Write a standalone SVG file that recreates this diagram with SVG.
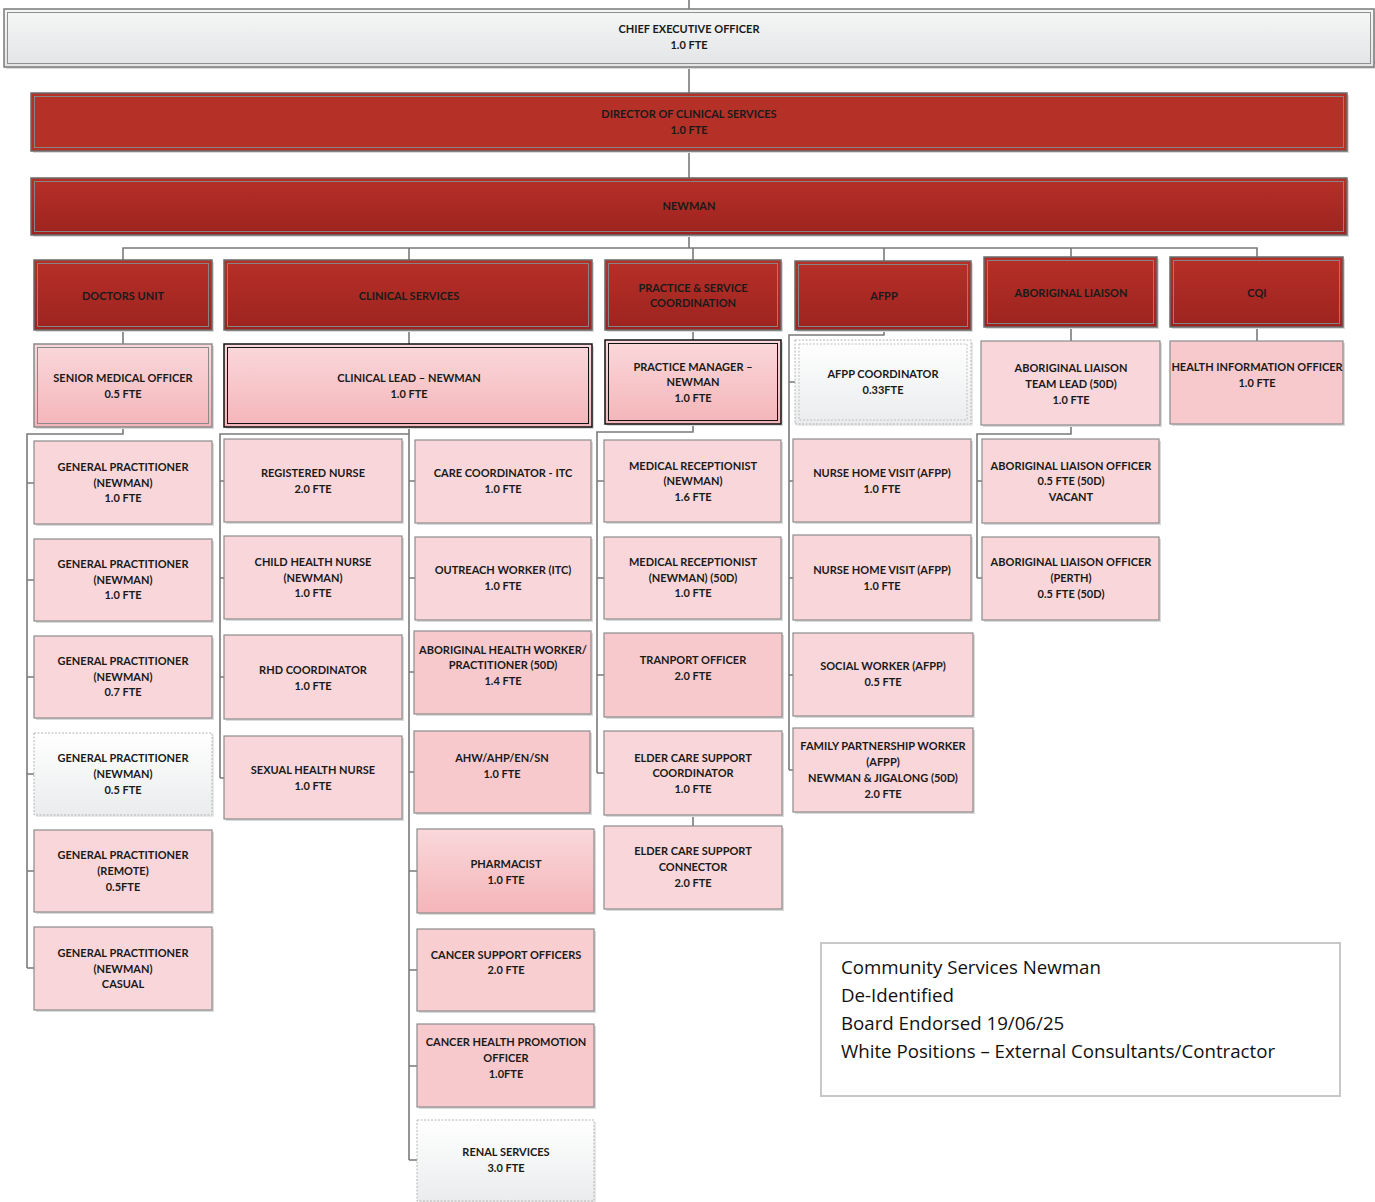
<svg xmlns="http://www.w3.org/2000/svg" width="1375" height="1202" viewBox="0 0 1375 1202">
<style>
.t{font-family:Lato,"Liberation Sans",sans-serif;font-weight:bold;font-size:11px;fill:#1a1a1a;text-anchor:middle}
.lg{font-family:"Open Sans","Liberation Sans",sans-serif;font-size:18.7px;fill:#111}
.sh{fill:#dadada}
.pk{fill:#f9d6d9;stroke:#8c8c8c;stroke-width:1.2}
.pd{fill:#f7c9cc;stroke:#8c8c8c;stroke-width:1.2}
.pg{fill:url(#gp);stroke:#8c8c8c;stroke-width:1.2}
.wh{fill:url(#gw);stroke:#b4b4b4;stroke-width:1;stroke-dasharray:2 1.5}
.whi{fill:none;stroke:#c0c0c0;stroke-width:1;stroke-dasharray:2 1.5}
.rd{fill:url(#gr);stroke:#6a6a6a;stroke-width:1.5}
.rdi{fill:none;stroke:#858585;stroke-width:1}
.dbo{stroke:#111;stroke-width:1.5}
.dbi{fill:none;stroke:#111;stroke-width:1}
.gbo{stroke:#8a8a8a;stroke-width:1.5}
.gbi{fill:none;stroke:#8a8a8a;stroke-width:1}
.cn path{fill:none;stroke:#7a7a7a;stroke-width:1.6}
</style>
<defs>
<linearGradient id="gr" x1="0" y1="0" x2="0" y2="1"><stop offset="0" stop-color="#b63027"/><stop offset="1" stop-color="#9d2320"/></linearGradient>
<linearGradient id="gp" x1="0" y1="0" x2="0" y2="1"><stop offset="0" stop-color="#fad8db"/><stop offset="1" stop-color="#f4b5b9"/></linearGradient>
<linearGradient id="gw" x1="0" y1="0" x2="0" y2="1"><stop offset="0" stop-color="#ffffff"/><stop offset="1" stop-color="#eaeced"/></linearGradient>
<linearGradient id="gc" x1="0" y1="0" x2="0" y2="1"><stop offset="0" stop-color="#f5f6f6"/><stop offset="1" stop-color="#e3e4e5"/></linearGradient>
</defs>

<g class="cn" id="connectors">
<path d="M689 0V9M689 67V93M689 151V178M689 235V248"/>
<path d="M123 260V248H1257V257M409 248V260M693 248V260M884 248V261M1071 248V257"/>
<path d="M123 330V344M409 330V344M693 330V340M1071 327V341M1257 327V341"/>
<path d="M123 427V434H27V968M27 483H34M27 580H34M27 677H34M27 774H34M27 871H34M27 968H34"/>
<path d="M409 427V1160M409 434H220V778M220 481H224M220 578H224M220 677H224M220 778H224"/>
<path d="M409 481H415M409 578H415M409 672H414M409 772H414M409 871H417M409 970H417M409 1066H417M409 1160H417"/>
<path d="M693 424V432H597V773M597 481H604M597 578H604M597 675H604M597 773H604M693 815V826"/>
<path d="M884 330V335H789V770M789 382H795M789 481H793M789 578H793M789 675H793M789 770H793"/>
<path d="M1071 425V434H977V578M977 481H982M977 578H982"/>
</g>

<g id="ceo"><rect class="sh" x="6" y="11" width="1370" height="58"/><rect x="4" y="9" width="1370" height="58" fill="url(#gc)" stroke="#7a7a7a" stroke-width="1.5"/><rect x="7.5" y="12.5" width="1363" height="51" fill="none" stroke="#8f8f8f" stroke-width="1"/><text class="t"><tspan x="689" y="33">CHIEF EXECUTIVE OFFICER</tspan><tspan x="689" y="49">1.0 FTE</tspan></text></g>
<g id="director"><rect class="sh" x="33" y="95" width="1316" height="58"/><rect x="31" y="93" width="1316" height="58" fill="#b53027" stroke="#6a6a6a" stroke-width="1.5"/><rect class="rdi" x="34.5" y="96.5" width="1309" height="51"/><text class="t"><tspan x="689" y="118">DIRECTOR OF CLINICAL SERVICES</tspan><tspan x="689" y="134">1.0 FTE</tspan></text></g>
<g id="newman"><rect class="sh" x="33" y="180" width="1316" height="57"/><rect class="rd" x="31" y="178" width="1316" height="57"/><rect class="rdi" x="34.5" y="181.5" width="1309" height="50"/><text class="t" x="689" y="210">NEWMAN</text></g>

<g id="doctors-unit"><rect class="sh" x="36" y="262" width="178" height="70"/><rect class="rd" x="34" y="260" width="178" height="70"/><rect class="rdi" x="37.5" y="263.5" width="171" height="63"/><text class="t" x="123" y="300">DOCTORS UNIT</text></g>
<g id="clinical-services"><rect class="sh" x="226" y="262" width="368" height="70"/><rect class="rd" x="224" y="260" width="368" height="70"/><rect class="rdi" x="227.5" y="263.5" width="361" height="63"/><text class="t" x="409" y="300">CLINICAL SERVICES</text></g>
<g id="practice-service"><rect class="sh" x="607" y="262" width="176" height="70"/><rect class="rd" x="605" y="260" width="176" height="70"/><rect class="rdi" x="608.5" y="263.5" width="169" height="63"/><text class="t"><tspan x="693" y="292">PRACTICE &amp; SERVICE</tspan><tspan x="693" y="307">COORDINATION</tspan></text></g>
<g id="afpp"><rect class="sh" x="797" y="263" width="176" height="69"/><rect class="rd" x="795" y="261" width="176" height="69"/><rect class="rdi" x="798.5" y="264.5" width="169" height="62"/><text class="t" x="884" y="300">AFPP</text></g>
<g id="aboriginal-liaison"><rect class="sh" x="986" y="259" width="173" height="70"/><rect class="rd" x="984" y="257" width="173" height="70"/><rect class="rdi" x="987.5" y="260.5" width="166" height="63"/><text class="t" x="1071" y="297">ABORIGINAL LIAISON</text></g>
<g id="cqi"><rect class="sh" x="1172" y="259" width="173" height="70"/><rect class="rd" x="1170" y="257" width="173" height="70"/><rect class="rdi" x="1173.5" y="260.5" width="166" height="63"/><text class="t" x="1257" y="297">CQI</text></g>

<g id="senior-medical-officer"><rect class="sh" x="36" y="346" width="178" height="83"/><rect class="pg gbo" x="34" y="344" width="178" height="83"/><rect class="gbi" x="37.5" y="347.5" width="171" height="76"/><text class="t"><tspan x="123" y="382">SENIOR MEDICAL OFFICER</tspan><tspan x="123" y="398">0.5 FTE</tspan></text></g>
<g id="clinical-lead"><rect class="sh" x="226" y="346" width="368" height="83"/><rect class="pg dbo" x="224" y="344" width="368" height="83"/><rect class="dbi" x="227.5" y="347.5" width="361" height="76"/><text class="t"><tspan x="409" y="382">CLINICAL LEAD – NEWMAN</tspan><tspan x="409" y="398">1.0 FTE</tspan></text></g>
<g id="practice-manager"><rect class="sh" x="607" y="342" width="176" height="84"/><rect class="pg dbo" x="605" y="340" width="176" height="84"/><rect class="dbi" x="608.5" y="343.5" width="169" height="77"/><text class="t"><tspan x="693" y="371">PRACTICE MANAGER –</tspan><tspan x="693" y="386">NEWMAN</tspan><tspan x="693" y="402">1.0 FTE</tspan></text></g>
<g id="afpp-coordinator"><rect class="sh" x="797" y="342" width="176" height="84" opacity="0.6"/><rect class="wh" x="795" y="340" width="176" height="84"/><rect class="whi" x="799" y="344" width="168" height="76"/><text class="t"><tspan x="883" y="378">AFPP COORDINATOR</tspan><tspan x="883" y="394">0.33FTE</tspan></text></g>
<g id="al-team-lead"><rect class="sh" x="983" y="343" width="179" height="84"/><rect class="pk" x="981" y="341" width="179" height="84"/><text class="t"><tspan x="1071" y="372">ABORIGINAL LIAISON</tspan><tspan x="1071" y="388">TEAM LEAD (50D)</tspan><tspan x="1071" y="404">1.0 FTE</tspan></text></g>
<g id="health-information-officer"><rect class="sh" x="1172" y="343" width="173" height="83"/><rect class="pd" x="1170" y="341" width="173" height="83"/><text class="t"><tspan x="1257" y="371">HEALTH INFORMATION OFFICER</tspan><tspan x="1257" y="387">1.0 FTE</tspan></text></g>

<g id="gp1"><rect class="sh" x="36" y="443" width="178" height="83"/><rect class="pk" x="34" y="441" width="178" height="83"/><text class="t"><tspan x="123" y="471">GENERAL PRACTITIONER</tspan><tspan x="123" y="487">(NEWMAN)</tspan><tspan x="123" y="502">1.0 FTE</tspan></text></g>
<g id="gp2"><rect class="sh" x="36" y="541" width="178" height="82"/><rect class="pk" x="34" y="539" width="178" height="82"/><text class="t"><tspan x="123" y="568">GENERAL PRACTITIONER</tspan><tspan x="123" y="584">(NEWMAN)</tspan><tspan x="123" y="599">1.0 FTE</tspan></text></g>
<g id="gp3"><rect class="sh" x="36" y="638" width="178" height="82"/><rect class="pk" x="34" y="636" width="178" height="82"/><text class="t"><tspan x="123" y="665">GENERAL PRACTITIONER</tspan><tspan x="123" y="681">(NEWMAN)</tspan><tspan x="123" y="696">0.7 FTE</tspan></text></g>
<g id="gp4"><rect class="sh" x="36" y="735" width="178" height="82" opacity="0.6"/><rect class="wh" x="34" y="733" width="178" height="82"/><text class="t"><tspan x="123" y="762">GENERAL PRACTITIONER</tspan><tspan x="123" y="778">(NEWMAN)</tspan><tspan x="123" y="794">0.5 FTE</tspan></text></g>
<g id="gp5"><rect class="sh" x="36" y="832" width="178" height="82"/><rect class="pk" x="34" y="830" width="178" height="82"/><text class="t"><tspan x="123" y="859">GENERAL PRACTITIONER</tspan><tspan x="123" y="875">(REMOTE)</tspan><tspan x="123" y="891">0.5FTE</tspan></text></g>
<g id="gp6"><rect class="sh" x="36" y="929" width="178" height="83"/><rect class="pk" x="34" y="927" width="178" height="83"/><text class="t"><tspan x="123" y="957">GENERAL PRACTITIONER</tspan><tspan x="123" y="973">(NEWMAN)</tspan><tspan x="123" y="988">CASUAL</tspan></text></g>

<g id="registered-nurse"><rect class="sh" x="226" y="441" width="178" height="83"/><rect class="pk" x="224" y="439" width="178" height="83"/><text class="t"><tspan x="313" y="477">REGISTERED NURSE</tspan><tspan x="313" y="493">2.0 FTE</tspan></text></g>
<g id="child-health-nurse"><rect class="sh" x="226" y="538" width="178" height="83"/><rect class="pk" x="224" y="536" width="178" height="83"/><text class="t"><tspan x="313" y="566">CHILD HEALTH NURSE</tspan><tspan x="313" y="582">(NEWMAN)</tspan><tspan x="313" y="597">1.0 FTE</tspan></text></g>
<g id="rhd-coordinator"><rect class="sh" x="226" y="637" width="178" height="84"/><rect class="pk" x="224" y="635" width="178" height="84"/><text class="t"><tspan x="313" y="674">RHD COORDINATOR</tspan><tspan x="313" y="690">1.0 FTE</tspan></text></g>
<g id="sexual-health-nurse"><rect class="sh" x="226" y="738" width="178" height="83"/><rect class="pk" x="224" y="736" width="178" height="83"/><text class="t"><tspan x="313" y="774">SEXUAL HEALTH NURSE</tspan><tspan x="313" y="790">1.0 FTE</tspan></text></g>

<g id="care-coordinator-itc"><rect class="sh" x="417" y="442" width="176" height="83"/><rect class="pk" x="415" y="440" width="176" height="83"/><text class="t"><tspan x="503" y="477">CARE COORDINATOR - ITC</tspan><tspan x="503" y="493">1.0 FTE</tspan></text></g>
<g id="outreach-worker"><rect class="sh" x="417" y="539" width="176" height="83"/><rect class="pk" x="415" y="537" width="176" height="83"/><text class="t"><tspan x="503" y="574">OUTREACH WORKER (ITC)</tspan><tspan x="503" y="590">1.0 FTE</tspan></text></g>
<g id="ahw-practitioner"><rect class="sh" x="416" y="633" width="177" height="83"/><rect class="pd" x="414" y="631" width="177" height="83"/><text class="t"><tspan x="503" y="654">ABORIGINAL HEALTH WORKER/</tspan><tspan x="503" y="669">PRACTITIONER (50D)</tspan><tspan x="503" y="685">1.4 FTE</tspan></text></g>
<g id="ahw-ahp-en-sn"><rect class="sh" x="416" y="733" width="176" height="82"/><rect class="pd" x="414" y="731" width="176" height="82"/><text class="t"><tspan x="502" y="762">AHW/AHP/EN/SN</tspan><tspan x="502" y="778">1.0 FTE</tspan></text></g>
<g id="pharmacist"><rect class="sh" x="419" y="831" width="177" height="84"/><rect x="417" y="829" width="177" height="84" fill="url(#gp)" stroke="#8c8c8c" stroke-width="1.2"/><text class="t"><tspan x="506" y="868">PHARMACIST</tspan><tspan x="506" y="884">1.0 FTE</tspan></text></g>
<g id="cancer-support"><rect class="sh" x="419" y="931" width="177" height="82"/><rect x="417" y="929" width="177" height="82" fill="#f8ced1" stroke="#8c8c8c" stroke-width="1.2"/><text class="t"><tspan x="506" y="959">CANCER SUPPORT OFFICERS</tspan><tspan x="506" y="974">2.0 FTE</tspan></text></g>
<g id="cancer-health-promotion"><rect class="sh" x="419" y="1026" width="177" height="83"/><rect class="pd" x="417" y="1024" width="177" height="83"/><text class="t"><tspan x="506" y="1046">CANCER HEALTH PROMOTION</tspan><tspan x="506" y="1062">OFFICER</tspan><tspan x="506" y="1078">1.0FTE</tspan></text></g>
<g id="renal-services"><rect class="sh" x="419" y="1122" width="177" height="81" opacity="0.6"/><rect class="wh" x="417" y="1120" width="177" height="81"/><text class="t"><tspan x="506" y="1156">RENAL SERVICES</tspan><tspan x="506" y="1172">3.0 FTE</tspan></text></g>

<g id="medical-receptionist-1"><rect class="sh" x="606" y="442" width="177" height="82"/><rect class="pk" x="604" y="440" width="177" height="82"/><text class="t"><tspan x="693" y="470">MEDICAL RECEPTIONIST</tspan><tspan x="693" y="485">(NEWMAN)</tspan><tspan x="693" y="501">1.6 FTE</tspan></text></g>
<g id="medical-receptionist-2"><rect class="sh" x="606" y="539" width="177" height="82"/><rect class="pk" x="604" y="537" width="177" height="82"/><text class="t"><tspan x="693" y="566">MEDICAL RECEPTIONIST</tspan><tspan x="693" y="582">(NEWMAN) (50D)</tspan><tspan x="693" y="597">1.0 FTE</tspan></text></g>
<g id="transport-officer"><rect class="sh" x="606" y="635" width="178" height="84"/><rect class="pd" x="604" y="633" width="178" height="84"/><text class="t"><tspan x="693" y="664">TRANPORT OFFICER</tspan><tspan x="693" y="680">2.0 FTE</tspan></text></g>
<g id="elder-care-coordinator"><rect class="sh" x="606" y="733" width="178" height="84"/><rect class="pk" x="604" y="731" width="178" height="84"/><text class="t"><tspan x="693" y="762">ELDER CARE SUPPORT</tspan><tspan x="693" y="777">COORDINATOR</tspan><tspan x="693" y="793">1.0 FTE</tspan></text></g>
<g id="elder-care-connector"><rect class="sh" x="606" y="828" width="178" height="83"/><rect class="pk" x="604" y="826" width="178" height="83"/><text class="t"><tspan x="693" y="855">ELDER CARE SUPPORT</tspan><tspan x="693" y="871">CONNECTOR</tspan><tspan x="693" y="887">2.0 FTE</tspan></text></g>

<g id="nurse-home-visit-1"><rect class="sh" x="795" y="441" width="178" height="83"/><rect class="pk" x="793" y="439" width="178" height="83"/><text class="t"><tspan x="882" y="477">NURSE HOME VISIT (AFPP)</tspan><tspan x="882" y="493">1.0 FTE</tspan></text></g>
<g id="nurse-home-visit-2"><rect class="sh" x="795" y="537" width="178" height="85"/><rect class="pk" x="793" y="535" width="178" height="85"/><text class="t"><tspan x="882" y="574">NURSE HOME VISIT (AFPP)</tspan><tspan x="882" y="590">1.0 FTE</tspan></text></g>
<g id="social-worker"><rect class="sh" x="795" y="635" width="180" height="83"/><rect class="pk" x="793" y="633" width="180" height="83"/><text class="t"><tspan x="883" y="670">SOCIAL WORKER (AFPP)</tspan><tspan x="883" y="686">0.5 FTE</tspan></text></g>
<g id="family-partnership-worker"><rect class="sh" x="795" y="730" width="180" height="84"/><rect class="pk" x="793" y="728" width="180" height="84"/><text class="t"><tspan x="883" y="750">FAMILY PARTNERSHIP WORKER</tspan><tspan x="883" y="766">(AFPP)</tspan><tspan x="883" y="782">NEWMAN &amp; JIGALONG (50D)</tspan><tspan x="883" y="798">2.0 FTE</tspan></text></g>

<g id="al-officer-1"><rect class="sh" x="984" y="441" width="177" height="84"/><rect class="pk" x="982" y="439" width="177" height="84"/><text class="t"><tspan x="1071" y="470">ABORIGINAL LIAISON OFFICER</tspan><tspan x="1071" y="485">0.5 FTE (50D)</tspan><tspan x="1071" y="501">VACANT</tspan></text></g>
<g id="al-officer-2"><rect class="sh" x="984" y="539" width="177" height="83"/><rect class="pk" x="982" y="537" width="177" height="83"/><text class="t"><tspan x="1071" y="566">ABORIGINAL LIAISON OFFICER</tspan><tspan x="1071" y="582">(PERTH)</tspan><tspan x="1071" y="598">0.5 FTE (50D)</tspan></text></g>

<g id="legend"><rect x="821" y="943" width="519" height="153" fill="#fff" stroke="#c8c8c8" stroke-width="2"/><text class="lg"><tspan x="841" y="974">Community Services Newman</tspan><tspan x="841" y="1002">De-Identified</tspan><tspan x="841" y="1030">Board Endorsed 19/06/25</tspan><tspan x="841" y="1058">White Positions – External Consultants/Contractor</tspan></text></g>
</svg>
